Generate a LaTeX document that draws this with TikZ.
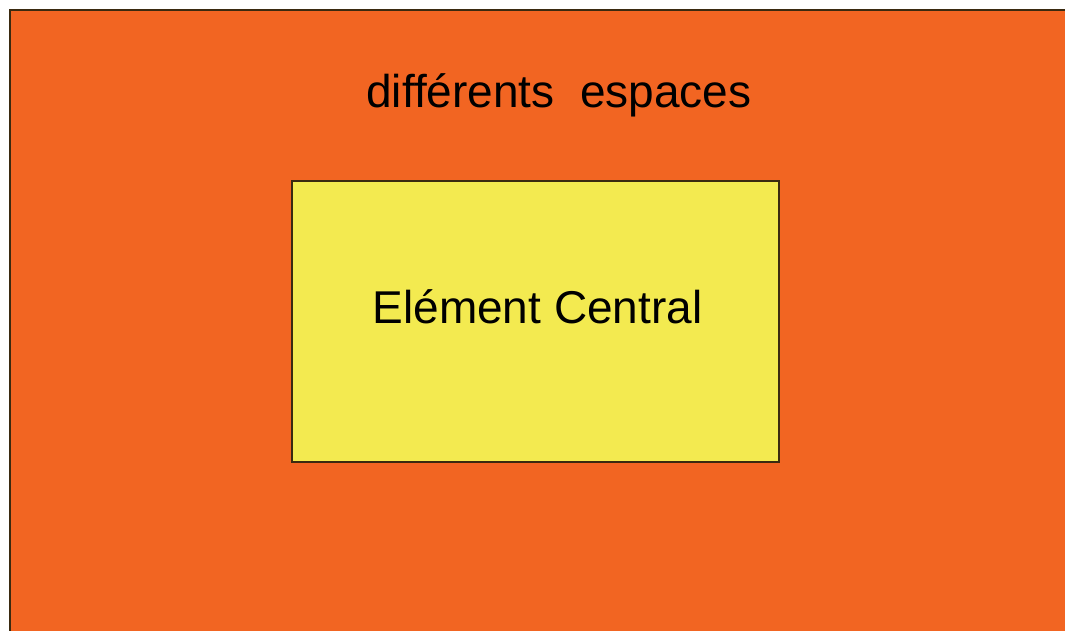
\documentclass[tikz,border=0pt]{standalone}
\usepackage{fontspec}
\setmainfont{Liberation Sans}
\definecolor{orangebg}{HTML}{F26522}
\definecolor{yellowbox}{HTML}{F3EA50}
\definecolor{edge}{HTML}{3A2A10}
\begin{document}
\begin{tikzpicture}[x=1pt,y=-1pt,
  outerbox/.style={draw=edge,line width=1.6pt,fill=orangebg},
  innerbox/.style={draw=edge,line width=1.2pt,fill=yellowbox},
  label/.style={font=\fontsize{46}{50}\selectfont,inner sep=0pt,anchor=base}]
\useasboundingbox (0,0) rectangle (1065,630);
\fill[white] (0,0) rectangle (1065,630);
\draw[outerbox] (10,10) rectangle (1080,650);
\node[draw=none,minimum width=0pt] (outer) at (545,330) {};
\draw[innerbox] (292,181) rectangle (779,462);
\node[label] (title) at (559,107) {différents\ \ espaces};
\node[label] (central) at (537.5,323) {Elément Central};
\end{tikzpicture}
\end{document}
